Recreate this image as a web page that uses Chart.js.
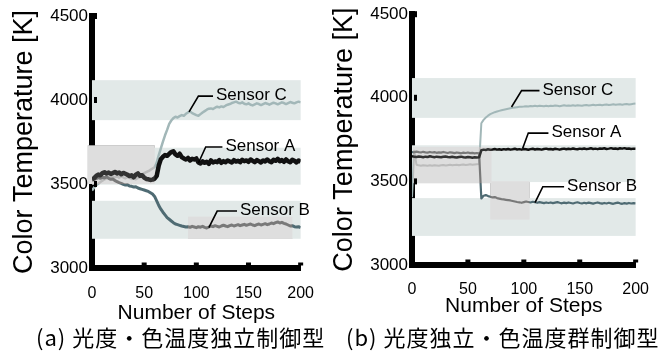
<!DOCTYPE html>
<html>
<head>
<meta charset="utf-8">
<script src="https://cdn.jsdelivr.net/npm/chart.js@4.4.1/dist/chart.umd.min.js"></script>
<style>
  body { margin: 0; background: #fff; width: 664px; height: 358px; overflow: hidden; position: relative; }
  .box { position: absolute; top: 0; height: 330px; }
  #boxA { left: 0; width: 330px; }
  #boxB { left: 330px; width: 334px; }
  .cap { position: absolute; top: 321px; font-family: "Noto Sans CJK JP", sans-serif; font-size: 22px; letter-spacing: 1px; white-space: nowrap; color: #000; line-height: 30px; }
</style>
</head>
<body>
<div class="box" id="boxA"><canvas id="chartA"></canvas></div>
<div class="box" id="boxB"><canvas id="chartB"></canvas></div>
<div class="cap" style="left:36px">(a) 光度・色温度独立制御型</div>
<div class="cap" style="left:346px">(b) 光度独立・色温度群制御型</div>
<script>
// step numbers (every 2nd step)
const steps = [0,2,4,6,8,10,12,14,16,18,20,22,24,26,28,30,32,34,36,38,40,42,44,46,48,50,52,54,56,58,60,
  62,64,66,68,70,72,74,76,78,80,82,84,86,88,90,92,94,96,98,100,102,104,106,108,110,112,114,116,118,120,
  122,124,126,128,130,132,134,136,138,140,142,144,146,148,150,152,154,156,158,160,162,164,166,168,170,
  172,174,176,178,180,182,184,186,188,190,192,194,196,198,200];

const yTicks = [3000, 3500, 4000, 4500];
const xTicks = [0, 50, 100, 150, 200];

// (a) 光度・色温度独立制御型
const aSensorA = [3528,3535,3548,3556,3552,3565,3570,3562,3568,3560,3566,3572,3563,3568,3558,3566,3561,3555,3547,3552,
  3540,3556,3563,3548,3552,3538,3530,3528,3524,3526,3532,3548,3610,3648,3662,3672,3668,3680,3690,3695,
  3676,3668,3680,3660,3652,3646,3655,3640,3650,3646,3652,3628,3622,3635,3626,3632,3620,3640,3628,3634,
  3630,3642,3626,3636,3630,3640,3634,3628,3642,3634,3638,3630,3644,3636,3640,3632,3646,3638,3630,3642,
  3636,3628,3640,3634,3646,3636,3630,3644,3638,3650,3636,3642,3632,3646,3636,3630,3644,3638,3628,3640,3632];
const aSensorB = [3522,3526,3532,3538,3534,3540,3536,3542,3534,3528,3530,3520,3514,3508,3504,3498,3494,3496,3488,3486,
  3482,3484,3476,3472,3468,3464,3460,3456,3448,3440,3426,3400,3372,3350,3332,3316,3300,3290,3280,3270,
  3262,3258,3254,3250,3247,3244,3246,3242,3248,3244,3240,3246,3243,3248,3242,3238,3244,3250,3246,3252,
  3248,3244,3250,3255,3250,3246,3252,3256,3250,3254,3258,3252,3256,3260,3254,3258,3262,3256,3252,3258,
  3262,3256,3260,3264,3258,3262,3268,3264,3270,3274,3268,3272,3266,3262,3256,3250,3252,3246,3244,3246,3240];
const aSensorC = [3462,3478,3492,3502,3512,3520,3528,3534,3540,3536,3544,3540,3546,3538,3544,3540,3534,3542,3536,3530,
  3534,3528,3536,3548,3558,3564,3570,3576,3584,3592,3600,3628,3672,3712,3752,3790,3822,3858,3878,3892,
  3900,3896,3904,3910,3906,3918,3926,3932,3922,3916,3910,3906,3916,3926,3934,3942,3948,3950,3946,3954,
  3960,3956,3962,3958,3966,3972,3976,3982,3986,3990,3984,3980,3986,3978,3974,3980,3972,3968,3974,3980,
  3976,3970,3976,3982,3978,3972,3978,3984,3980,3974,3980,3986,3982,3976,3982,3988,3984,3980,3986,3990,3986];

// (b) 光度独立・色温度群制御型
const bSensorA = [3650,3648,3646,3649,3647,3645,3648,3646,3650,3647,3645,3648,3646,3644,3647,3649,3646,3644,3647,3645,
  3643,3646,3648,3645,3643,3646,3644,3642,3645,3643,3644,
  3686,3690,3688,3692,3689,3691,3694,3690,3692,3689,3693,3691,3694,3690,3692,3695,3691,3693,3690,3694,
  3692,3689,3693,3695,3691,3694,3692,3690,3694,3696,3692,3694,3691,3695,3693,3690,3694,3696,3692,3695,
  3693,3697,3694,3692,3696,3694,3697,3693,3695,3698,3694,3696,3693,3697,3695,3698,3694,3696,3699,3695,
  3697,3694,3698,3696,3699,3695,3697,3694,3696,3695];
const bSensorB = [3676,3674,3678,3675,3673,3677,3674,3672,3676,3673,3675,3671,3674,3672,3676,3673,3670,3674,3672,3669,
  3673,3671,3668,3672,3670,3673,3669,3671,3668,3670,3668,
  3398,3414,3418,3412,3408,3404,3406,3400,3397,3394,3392,3390,3388,3386,3383,3380,3377,3375,3372,3376,
  3380,3377,3374,3378,3375,3372,3376,3373,3370,3374,3371,3374,3370,3373,3376,3372,3369,3373,3370,3374,
  3371,3368,3372,3375,3371,3368,3372,3369,3373,3370,3367,3371,3374,3370,3367,3371,3368,3372,3369,3366,
  3370,3373,3369,3366,3370,3367,3371,3368,3370,3369];
const bSensorC = [3405,3684,3600,3596,3594,3597,3595,3593,3596,3594,3597,3595,3593,3596,3598,3595,3597,3599,3596,3598,
  3600,3597,3599,3601,3598,3600,3602,3599,3601,3603,3604,
  3848,3868,3882,3893,3902,3908,3914,3918,3922,3926,3929,3932,3935,3938,3940,3942,3944,3946,3947,3948,
  3950,3948,3951,3949,3952,3950,3953,3951,3949,3952,3950,3953,3951,3954,3952,3950,3953,3955,3952,3954,
  3952,3955,3953,3956,3954,3952,3955,3957,3954,3956,3958,3955,3957,3959,3956,3958,3960,3957,3959,3961,
  3958,3960,3962,3959,3961,3963,3960,3962,3964,3966];

// target bands [low, high] for sensors C, A, B
const targetBands = [[3880, 4118], [3496, 3716], [3174, 3400]];
// gray boxes [x0, x1, yLow, yHigh]
const aBoxes = [[-4, 60, 3500, 3730], [92, 192, 3174, 3305]];
const bBoxes = [[1, 71, 3490, 3706], [70, 105, 3272, 3500]];
// callouts: name, curve point, elbow, end of leader
const aNotes = [['Sensor C', [93, 3929], [102, 4023], [116, 4023]],
                ['Sensor A', [102, 3625], [109, 3720], [125, 3720]],
                ['Sensor B', [112, 3240], [120, 3339], [139, 3339]]];
const bNotes = [['Sensor C', [89, 3945], [98, 4043], [114, 4043]],
                ['Sensor A', [99, 3698], [104, 3789], [122, 3789]],
                ['Sensor B', [110, 3373], [117, 3468], [136, 3468]]];

const FONT = '"Liberation Sans", Arial, sans-serif';

const decor = {
  id: 'decor',
  beforeDatasetsDraw(chart, args, opts) {
    const { ctx, scales: { x, y } } = chart;
    ctx.save();
    ctx.fillStyle = '#e2e9e8';
    targetBands.forEach(b => {
      const t = y.getPixelForValue(b[1]), bt = y.getPixelForValue(b[0]);
      ctx.fillRect(x.getPixelForValue(0), t, x.getPixelForValue(200) - x.getPixelForValue(0), bt - t);
    });
    ctx.fillStyle = '#d9d9d9';
    opts.boxes.forEach(b => {
      const l = x.getPixelForValue(b[0]), r = x.getPixelForValue(b[1]);
      const t = y.getPixelForValue(b[3]), bt = y.getPixelForValue(b[2]);
      ctx.fillRect(l, t, r - l, bt - t);
    });
    ctx.restore();
  },
  afterDatasetsDraw(chart, args, opts) {
    const { ctx, scales: { x, y } } = chart;
    ctx.save();
    // lines that run through a gray box lose their colour
    opts.boxes.forEach(b => {
      const l = x.getPixelForValue(b[0]), r = x.getPixelForValue(b[1]);
      const t = y.getPixelForValue(b[3]), bt = y.getPixelForValue(b[2]);
      ctx.globalCompositeOperation = 'saturation';
      ctx.fillStyle = '#808080';
      ctx.fillRect(l, t, r - l, bt - t);
      ctx.globalCompositeOperation = 'source-over';
      ctx.fillStyle = 'rgba(255,255,255,0.14)';
      ctx.fillRect(l, t, r - l, bt - t);
    });
    // callouts
    ctx.strokeStyle = '#000';
    ctx.lineWidth = 1.6;
    ctx.fillStyle = '#000';
    ctx.font = '17px ' + FONT;
    ctx.textBaseline = 'alphabetic';
    opts.notes.forEach(n => {
      const p = n.slice(1).map(q => [x.getPixelForValue(q[0]), y.getPixelForValue(q[1])]);
      ctx.beginPath();
      ctx.moveTo(p[0][0], p[0][1]);
      ctx.lineTo(p[1][0], p[1][1]);
      ctx.lineTo(p[2][0], p[2][1]);
      ctx.stroke();
      ctx.fillText(n[0], p[2][0] + 3, p[2][1] + 4);
    });
    ctx.restore();
  },
  afterDraw(chart) {
    const { ctx, chartArea: a, scales: { x, y } } = chart;
    ctx.save();
    ctx.fillStyle = '#000';
    ctx.fillRect(a.left - 3, a.bottom - 3, 6, 6);
    yTicks.slice(1).forEach(v => ctx.fillRect(a.left + 2, y.getPixelForValue(v) - 3, 3, 6));
    xTicks.slice(1).forEach(v => ctx.fillRect(x.getPixelForValue(v) - 2.5, a.bottom - 5.5, 5, 3));
    ctx.restore();
  }
};

function lineSet(data, color, width) {
  return {
    data: data.map((v, i) => ({ x: steps[i], y: v })),
    borderColor: color,
    borderWidth: width,
    pointRadius: 0,
    tension: 0,
    borderJoinStyle: 'round'
  };
}

function makeChart(id, sets, boxes, notes, dims) {
  new Chart(document.getElementById(id), {
    type: 'line',
    data: { datasets: sets },
    options: {
      responsive: true,
      maintainAspectRatio: false,
      animation: false,
      events: [],
      layout: { padding: { top: dims.top, right: dims.right, left: 0, bottom: 0 } },
      plugins: {
        legend: { display: false },
        tooltip: { enabled: false },
        decor: { boxes: boxes, notes: notes }
      },
      scales: {
        x: {
          type: 'linear', min: 0, max: 200, z: 1,
          afterBuildTicks: s => { s.ticks = xTicks.map(v => ({ value: v })); },
          afterFit: s => { s.height = dims.xh; },
          grid: { display: false, drawTicks: false },
          border: { display: true, width: 6, color: '#000' },
          ticks: { color: '#000', padding: dims.xpad, font: { family: FONT, size: 16 }, maxRotation: 0,
                   callback: v => String(v) },
          title: { display: true, text: 'Number of Steps', color: '#000', font: { family: FONT, size: 21, lineHeight: 1 },
                   padding: { top: 0, bottom: dims.xtp } }
        },
        y: {
          min: 3000, max: 4500, z: 1,
          afterBuildTicks: s => { s.ticks = yTicks.map(v => ({ value: v })); },
          afterFit: s => { s.width = dims.yw; },
          grid: { display: false, drawTicks: false },
          border: { display: true, width: 6, color: '#000' },
          ticks: { color: '#000', padding: 4, font: { family: FONT, size: 17 }, callback: v => String(v) },
          title: { display: true, text: 'Color Temperature [K]', color: '#000', font: { family: FONT, size: 27, lineHeight: 1 },
                   padding: { top: dims.ytp, bottom: 0 } }
        }
      }
    },
    plugins: [decor]
  });
}

Chart.register({ id: 'decor' });

makeChart('chartA', [
  lineSet(aSensorA, '#111111', 4.5),
  lineSet(aSensorB, '#4f6b73', 3),
  lineSet(aSensorC, '#a2b7b8', 2.5)
], aBoxes, aNotes, { top: 16, right: 12, yw: 92, xh: 62, xpad: 16, xtp: 6, ytp: 11 });

makeChart('chartB', [
  lineSet(bSensorA, '#111111', 2.5),
  lineSet(bSensorB, '#4f6b73', 2.2),
  lineSet(bSensorC, '#a2b7b8', 2)
], bBoxes, bNotes, { top: 12, right: 28, yw: 82, xh: 65, xpad: 15, xtp: 13, ytp: 1 });
</script>
</body>
</html>
